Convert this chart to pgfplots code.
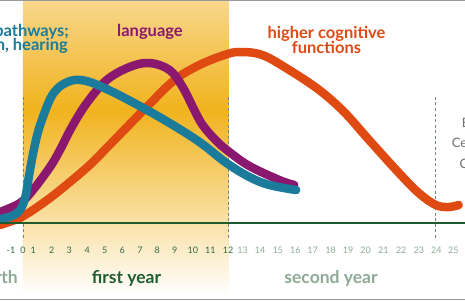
\documentclass[border=0pt]{standalone}
\usepackage{fontspec}
\setmainfont{Lato}
\usepackage{pgfplots}
\pgfplotsset{compat=1.18}
\definecolor{cteal}{HTML}{1A7B9B}
\definecolor{cpurple}{HTML}{8B186F}
\definecolor{corange}{HTML}{DF4A12}
\definecolor{axisgreen}{HTML}{1F5A2C}
\definecolor{darkgreen}{HTML}{1E5E34}
\definecolor{tickdark}{HTML}{336B45}
\definecolor{graygreen}{HTML}{8EAA97}
\definecolor{rgray}{HTML}{707070}
\definecolor{ytop}{HTML}{F8D78C}
\definecolor{ymid}{HTML}{F1B31E}
\definecolor{ybot}{HTML}{FFFFFF}
\begin{document}
\begin{tikzpicture}
\begin{axis}[
  at={(0,0)}, anchor=south west,
  scale only axis, width=465pt, height=300pt,
  xmin=-1.337, xmax=25.698, ymin=-77, ymax=223,
  axis on top,
  axis x line=middle, axis y line=none,
  axis line style={-, draw=axisgreen, line width=1.8pt},
  major tick length=0pt,
  ytick=\empty,
  xtick={-0.70,0,0.60,1.67,2.69,3.74,4.75,5.77,6.80,7.81,8.82,9.87,10.89,11.92},
  xticklabels={-1,0,1,2,3,4,5,6,7,8,9,10,11,12},
  extra x ticks={12.77,13.78,14.81,15.83,16.84,17.89,18.90,19.92,20.95,21.99,23.02,24.03,25.02},
  extra x tick labels={13,14,15,16,17,18,19,20,21,22,23,24,25},
  extra x tick style={xticklabel style={text=graygreen}},
  xticklabel style={anchor=center, yshift=-27.5pt, text=tickdark, font=\fontsize{9}{9}\selectfont, inner sep=0pt},
]
\shade[top color=ytop, bottom color=ymid] (axis cs:0,223) rectangle (axis cs:11.95,113);
\shade[top color=ymid, bottom color=ybot] (axis cs:0,113.2) rectangle (axis cs:11.95,-72);
\draw[graygreen!80!black, line width=0.7pt, dash pattern=on 3pt off 2.5pt] (axis cs:0,126) -- (axis cs:0,-17);
\draw[graygreen!80!black, line width=0.7pt, dash pattern=on 3pt off 2.5pt] (axis cs:11.95,126) -- (axis cs:11.95,-17);
\draw[graygreen!80!black, line width=0.7pt, dash pattern=on 3pt off 2.5pt] (axis cs:24.0,126) -- (axis cs:24.0,-17);

% higher cognitive functions
\addplot[corange, line width=8.5pt, line cap=round, smooth, tension=0.6] coordinates {
(-1.337,-2) (-0.17,5) (0.41,11) (1.57,25) (2.73,41) (3.88,58) (4.75,73) (7.19,116) (8.81,143) (10.26,158) (11.71,168) (12.58,171) (13.91,168) (15.48,153) (17.22,133) (18.67,111) (20.12,83) (21.86,50) (23.01,30) (24.0,18) (24.75,16) (25.33,18)};
% language
\addplot[cpurple, line width=8.5pt, line cap=round, smooth, tension=0.6] coordinates {
(-1.337,11) (-0.17,20) (0.58,33) (1.57,56) (2.15,73) (2.84,96) (3.71,120) (4.87,143) (6.20,156) (7.36,160) (8.52,153) (9.28,136) (9.90,115) (10.44,98) (11.25,82) (12.0,71) (13.16,57) (14.90,43) (15.77,38)};
% sensing pathways
\addplot[cteal, line width=8.5pt, line cap=round, smooth, tension=0.6] coordinates {
(-1.337,4) (-0.64,7) (-0.17,13) (0.12,25) (0.29,41) (0.46,58) (0.64,74) (0.87,91) (1.16,106) (1.45,119) (1.74,129) (2.26,138) (3.01,143) (3.88,141) (5.22,131) (6.78,117) (8.52,100) (10.26,81) (11.83,60) (13.16,46) (14.32,38) (15.88,33)};

\node[anchor=base east, inner sep=0pt, text=cteal, font=\fontsize{16.5}{16.5}\selectfont\bfseries] at (axis cs:2.674,186) {sensing pathways;};
\node[anchor=base east, inner sep=0pt, text=cteal, font=\fontsize{16.5}{16.5}\selectfont\bfseries] at (axis cs:2.616,172) {vision, hearing};
\node[anchor=base, inner sep=0pt, text=cpurple, font=\fontsize{16.5}{16.5}\selectfont\bfseries] at (axis cs:7.384,186) {language};
\node[anchor=base, inner sep=0pt, text=corange, font=\fontsize{16.5}{16.5}\selectfont\bfseries] at (axis cs:17.645,184) {higher cognitive};
\node[anchor=base, inner sep=0pt, text=corange, font=\fontsize{16.5}{16.5}\selectfont\bfseries] at (axis cs:17.645,169) {functions};
\node[anchor=base, inner sep=0pt, text=darkgreen, font=\fontsize{17.5}{17.5}\selectfont\bfseries] at (axis cs:6.017,-60) {first year};
\node[anchor=base, inner sep=0pt, text=graygreen, font=\fontsize{17.5}{17.5}\selectfont\bfseries] at (axis cs:17.907,-60) {second year};
\node[anchor=base east, inner sep=0pt, text=graygreen, font=\fontsize{17.5}{17.5}\selectfont\bfseries] at (axis cs:-0.291,-60) {birth};
\node[anchor=base west, inner sep=0pt, text=rgray, font=\fontsize{13}{13}\selectfont] at (axis cs:25.51,95) {Brain};
\node[anchor=base west, inner sep=0pt, text=rgray, font=\fontsize{13}{13}\selectfont] at (axis cs:24.92,76) {Center on};
\node[anchor=base west, inner sep=0pt, text=rgray, font=\fontsize{13}{13}\selectfont] at (axis cs:25.37,55) {Child};
\end{axis}
\draw[gray!80, line width=1.5pt] (0,299.6pt) -- (465pt,299.6pt);
\draw[gray!80, line width=1.5pt] (0,0.4pt) -- (465pt,0.4pt);
\pgfresetboundingbox
\useasboundingbox (0,0) rectangle (465pt,300pt);
\end{tikzpicture}
\end{document}
